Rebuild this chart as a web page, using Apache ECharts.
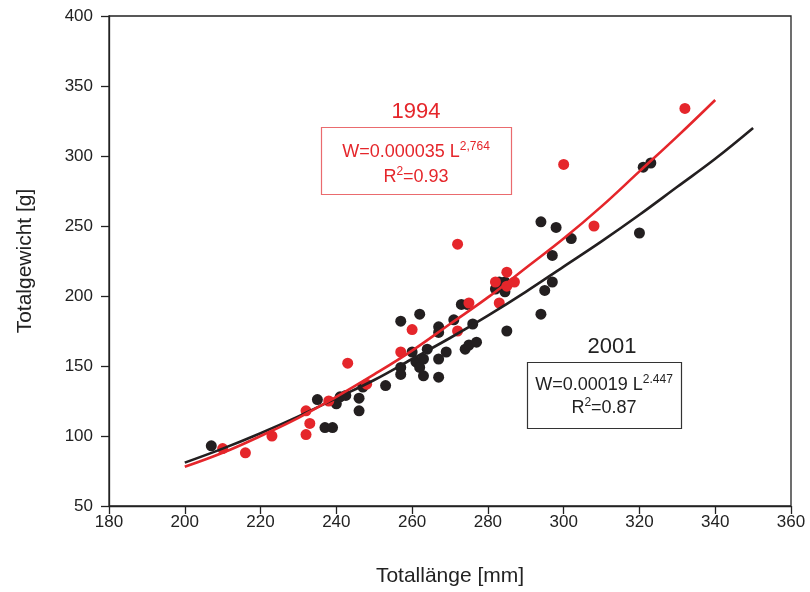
<!DOCTYPE html>
<html>
<head>
<meta charset="utf-8">
<script src="https://cdn.jsdelivr.net/npm/echarts@6/dist/echarts.min.js"></script>
<style>html,body{margin:0;padding:0;background:#fff}#c{width:810px;height:592px}</style>
</head>
<body>
<div id="c"></div>
<script>
// Scatter data: [Totallänge mm, Totalgewicht g]
const points1994 = [[210,91],[216,88],[223,100],[232,101],[233,109],[232,118],[238,125],[243,152],[248,137],[257,160],[260,176],[272,237],[272,175],[275,195],[282,210],[283,195],[285,217],[285,207],[287,210],[300,294],[308,250],[332,334]];
const points2001 = [[207,93],[235,126],[237,106],[239,106],[240,123],[241,128],[242.5,129],[246,127],[246,118],[247,135],[253,136],[257,182],[262,187],[257,149],[257,144],[260,160],[261,153],[262,149],[263,143],[263,155],[264,162],[267,178],[267,174],[267,155],[267,142],[269,160],[271,183],[273,194],[274.5,194],[274,162],[275,165],[277,167],[276,180],[285,175],[284.5,210],[282,205],[284.5,203],[283,210],[294,253],[298,249],[302,241],[320,245],[297,229],[297,210],[295,204],[294,187],[321,292],[323,295]];
// Fitted curves
const fitX1994 = [200,210,220,230,240,250,260,270,280,290,300,310,320,330,340];
const fitY1994 = [78,88,100,113,128,144,161,180,199,220,241,264,289,314,340];
const fitX2001 = [200,210,220,230,240,250,260,270,280,290,300,310,320,330,340,350];
const fitY2001 = [81,91,102,114,127,140,155,170,186,203,221,239,258,278,298,320];
const xTicks = [180,200,220,240,260,280,300,320,340,360];
const yTicks = [50,100,150,200,250,300,350,400];

const RED = '#e5262b';
const BLACK = '#231f20';
const FONT = '"Liberation Sans", Arial, sans-serif';

const chart = echarts.init(document.getElementById('c'), null, {renderer:'canvas'});
const zip = (xs, ys) => xs.map((x,i)=>[x, ys[i]]);
const richFor = (col) => ({
  a:{fontSize:18,fontFamily:FONT,fill:col,color:col,verticalAlign:'bottom',lineHeight:20},
  s:{fontSize:12,fontFamily:FONT,fill:col,color:col,verticalAlign:'top',lineHeight:12}
});

chart.setOption({
  animation:false,
  backgroundColor:'#fff',
  textStyle:{fontFamily:FONT},
  grid:{left:109,right:19,top:16,bottom:85,show:true,borderColor:'#222',borderWidth:1.3,backgroundColor:'transparent'},
  xAxis:{
    type:'value', min:xTicks[0], max:xTicks[xTicks.length-1], interval:20,
    name:'Totallänge [mm]', nameLocation:'middle', nameGap:60,
    nameTextStyle:{fontSize:21,color:'#222',fontFamily:FONT},
    axisLine:{show:true,lineStyle:{color:'#222',width:1.3}},
    axisTick:{show:true,inside:false,length:8,lineStyle:{color:'#222',width:1.3}},
    axisLabel:{fontSize:17,color:'#222',margin:8,fontFamily:FONT},
    splitLine:{show:false}
  },
  yAxis:{
    type:'value', min:yTicks[0], max:yTicks[yTicks.length-1], interval:50,
    name:'Totalgewicht [g]', nameLocation:'middle', nameGap:73,
    nameTextStyle:{fontSize:21,color:'#222',fontFamily:FONT},
    axisLine:{show:true,lineStyle:{color:'#222',width:1.3}},
    axisTick:{show:true,inside:false,length:8,lineStyle:{color:'#222',width:1.3}},
    axisLabel:{fontSize:17,color:'#222',margin:16,fontFamily:FONT},
    splitLine:{show:false}
  },
  series:[
    {type:'scatter', name:'2001', data:points2001, symbolSize:11, itemStyle:{color:BLACK,opacity:1}, z:2},
    {type:'scatter', name:'1994', data:points1994, symbolSize:11, itemStyle:{color:RED,opacity:1}, z:3},
    {type:'line', name:'fit2001', data:zip(fitX2001,fitY2001), smooth:0.4, showSymbol:false, symbol:'none', lineStyle:{color:BLACK,width:2.6}, z:4},
    {type:'line', name:'fit1994', data:zip(fitX1994,fitY1994), smooth:0.4, showSymbol:false, symbol:'none', lineStyle:{color:RED,width:2.6}, z:5}
  ],
  graphic:[
    {type:'text', x:416, y:112, style:{text:'1994', fill:RED, font:'22px '+FONT, align:'center', verticalAlign:'middle'}},
    {type:'rect', shape:{x:321.5,y:127.5,width:190,height:67}, style:{fill:'none', stroke:'#ea6b6e', lineWidth:1.2}},
    {type:'text', x:416, y:151, style:{text:'{a|W=0.000035 L}{s|2,764}', rich:richFor(RED), align:'center', verticalAlign:'middle'}},
    {type:'text', x:416, y:176, style:{text:'{a|R}{s|2}{a|=0.93}', rich:richFor(RED), align:'center', verticalAlign:'middle'}},

    {type:'text', x:612, y:347, style:{text:'2001', fill:'#222', font:'22px '+FONT, align:'center', verticalAlign:'middle'}},
    {type:'rect', shape:{x:527.5,y:362.5,width:154,height:66}, style:{fill:'none', stroke:'#333', lineWidth:1.2}},
    {type:'text', x:604, y:384, style:{text:'{a|W=0.00019 L}{s|2.447}', rich:richFor('#222'), align:'center', verticalAlign:'middle'}},
    {type:'text', x:604, y:407, style:{text:'{a|R}{s|2}{a|=0.87}', rich:richFor('#222'), align:'center', verticalAlign:'middle'}}
  ]
});
</script>
</body>
</html>
